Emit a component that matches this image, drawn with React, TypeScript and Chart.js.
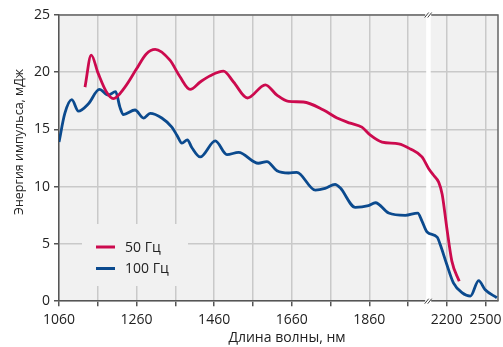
import { useEffect, useRef } from 'react';
import { Chart, registerables } from 'chart.js';

Chart.register(...registerables);

// Axis positions (nm on the linear scale; after the break, position 2060 is labelled 2200 and 2160 is 2500)
const redX = [1127, 1143, 1161, 1182, 1200, 1230, 1260, 1285, 1308, 1346, 1372, 1398, 1424, 1450, 1484, 1510, 1546, 1592, 1622, 1652, 1690, 1742, 1777, 1811, 1841, 1863, 1893, 1936, 1966, 1996, 2013, 2026, 2039, 2048, 2060, 2073, 2092];
const redY = [18.7, 21.5, 19.9, 18.3, 17.7, 18.7, 20.3, 21.6, 22.0, 21.05, 19.6, 18.5, 19.15, 19.7, 20.1, 19.15, 17.75, 18.9, 18.0, 17.45, 17.4, 16.7, 16.0, 15.55, 15.2, 14.5, 13.9, 13.75, 13.3, 12.6, 11.6, 11.0, 10.4, 9.35, 6.4, 3.5, 1.75];

const blueX = [1060, 1075, 1093, 1110, 1136, 1164, 1187, 1206, 1217, 1226, 1256, 1278, 1295, 1325, 1351, 1364, 1377, 1391, 1402, 1424, 1463, 1493, 1523, 1574, 1596, 1622, 1652, 1673, 1721, 1746, 1772, 1785, 1824, 1858, 1876, 1910, 1953, 1985, 1996, 2009, 2035, 2043, 2060, 2077, 2099, 2121, 2142, 2159, 2189];
const blueY = [13.9, 16.4, 17.6, 16.6, 17.25, 18.5, 18.0, 18.3, 16.95, 16.3, 16.7, 16.0, 16.4, 16.0, 15.2, 14.5, 13.8, 14.1, 13.45, 12.6, 14.0, 12.8, 13.0, 12.05, 12.2, 11.4, 11.2, 11.25, 9.7, 9.85, 10.2, 9.9, 8.2, 8.35, 8.6, 7.7, 7.5, 7.7, 7.0, 6.05, 5.6, 4.95, 3.2, 1.6, 0.75, 0.45, 1.8, 1.0, 0.3];

const xTickPositions = [1060, 1160, 1260, 1360, 1460, 1560, 1660, 1760, 1860, 1960, 2060, 2160];
const xTickLabels: Record<number, string> = { 1060: '1060', 1260: '1260', 1460: '1460', 1660: '1660', 1860: '1860', 2060: '2200', 2160: '2500' };
const seriesNames = ['50 Гц', '100 Гц'];
const seriesColors = ['#cc0a4e', '#0b4a8e'];
const xTitle = 'Длина волны, нм';
const yTitle = 'Энергия импульса, мДж';
const breakAt = 2012;

const FONT = '"Open Sans", "DejaVu Sans", sans-serif';

export default function App() {
  const ref = useRef<HTMLCanvasElement | null>(null);
  useEffect(() => {
    if (!ref.current) return;
    const bgPlugin = {
      id: 'bgPlugin',
      beforeDraw(chart: any) {
        const { ctx, chartArea: a } = chart;
        ctx.save();
        ctx.fillStyle = '#f1f1f1';
        ctx.fillRect(a.left, a.top, a.right - a.left, a.bottom - a.top);
        ctx.restore();
      },
      beforeDatasetsDraw(chart: any) {
        const { ctx, chartArea: a, scales } = chart;
        const bx = scales.x.getPixelForValue(breakAt);
        ctx.save();
        // legend box background
        ctx.fillStyle = '#f1f1f1';
        ctx.fillRect(a.left + 23, a.top + 209, 106, 62);
        // break band
        ctx.fillStyle = '#ffffff';
        ctx.fillRect(bx - 2, a.top, 4.5, a.bottom - a.top);
        // top & right border
        ctx.strokeStyle = '#666';
        ctx.lineWidth = 1.5;
        ctx.beginPath();
        ctx.moveTo(a.left, a.top);
        ctx.lineTo(a.right, a.top);
        ctx.lineTo(a.right, a.bottom);
        ctx.stroke();
        // legend
        const items = chart.data.datasets;
        ctx.font = `14px ${FONT}`;
        ctx.textBaseline = 'middle';
        items.forEach((ds: any, i: number) => {
          const y = a.top + 232 + i * 21.5;
          ctx.strokeStyle = ds.borderColor;
          ctx.lineWidth = 3;
          ctx.beginPath();
          ctx.moveTo(a.left + 37, y);
          ctx.lineTo(a.left + 56, y);
          ctx.stroke();
          ctx.fillStyle = '#222';
          ctx.fillText(ds.label, a.left + 66, y + 1);
        });
        ctx.restore();
      },
      afterDraw(chart: any) {
        const { ctx, chartArea: a, scales } = chart;
        const bx = scales.x.getPixelForValue(breakAt);
        ctx.save();
        ctx.fillStyle = '#ffffff';
        ctx.fillRect(bx - 3, a.top - 3, 6, 5);
        ctx.fillRect(bx - 3, a.bottom - 2, 6, 5);
        ctx.strokeStyle = '#444';
        ctx.lineWidth = 1;
        [a.top, a.bottom].forEach((y) => {
          [-1.5, 1.5].forEach((dx) => {
            ctx.beginPath();
            ctx.moveTo(bx + dx - 2, y + 2.5);
            ctx.lineTo(bx + dx + 2, y - 2.5);
            ctx.stroke();
          });
        });
        // axis titles
        ctx.fillStyle = '#222';
        ctx.textAlign = 'center';
        ctx.textBaseline = 'middle';
        ctx.font = `14px ${FONT}`;
        ctx.fillText(xTitle, 287, 338);
        ctx.translate(19, 142);
        ctx.rotate(-Math.PI / 2);
        ctx.font = `12.5px ${FONT}`;
        ctx.fillText(yTitle, 0, 0);
        ctx.restore();
      },
    };
    const chart = new Chart(ref.current, {
      type: 'line',
      data: {
        datasets: [
          {
            label: seriesNames[0],
            data: redX.map((x, i) => ({ x, y: redY[i] })),
            borderColor: seriesColors[0],
            borderWidth: 2.8,
            pointRadius: 0,
            cubicInterpolationMode: 'monotone',
            fill: false,
          },
          {
            label: seriesNames[1],
            data: blueX.map((x, i) => ({ x, y: blueY[i] })),
            borderColor: seriesColors[1],
            borderWidth: 2.8,
            pointRadius: 0,
            cubicInterpolationMode: 'monotone',
            fill: false,
          },
        ],
      },
      options: {
        animation: false,
        responsive: true,
        maintainAspectRatio: false,
        layout: { padding: { top: 15, right: 5, left: 30, bottom: 14 } },
        plugins: { legend: { display: false }, tooltip: { enabled: false } },
        scales: {
          x: {
            type: 'linear',
            min: 1060,
            max: 2192,
            afterBuildTicks(scale: any) {
              scale.ticks = xTickPositions.map((v) => ({ value: v }));
            },
            afterFit(scale: any) {
              scale.paddingRight = 0;
            },
            ticks: {
              autoSkip: false,
              maxRotation: 0,
              color: '#222',
              font: { family: FONT, size: 14 },
              padding: 5,
              callback: (v: any) => xTickLabels[v as number] ?? '',
            },
            grid: { color: '#c9c9c9', lineWidth: 1.5, tickLength: 5, tickColor: '#555' },
            border: { color: '#555', width: 1.5 },
          },
          y: {
            min: 0,
            max: 25,
            ticks: { stepSize: 5, color: '#222', font: { family: FONT, size: 14 }, padding: 4 },
            grid: { color: '#c9c9c9', lineWidth: 1.5, tickLength: 5, tickColor: '#555' },
            border: { color: '#555', width: 1.5 },
          },
        },
      },
      plugins: [bgPlugin],
    } as any);
    return () => chart.destroy();
  }, []);
  return (
    <div style={{ position: 'fixed', left: 0, top: 0, width: 503, height: 347, background: '#fff' }}>
      <canvas ref={ref} />
    </div>
  );
}
